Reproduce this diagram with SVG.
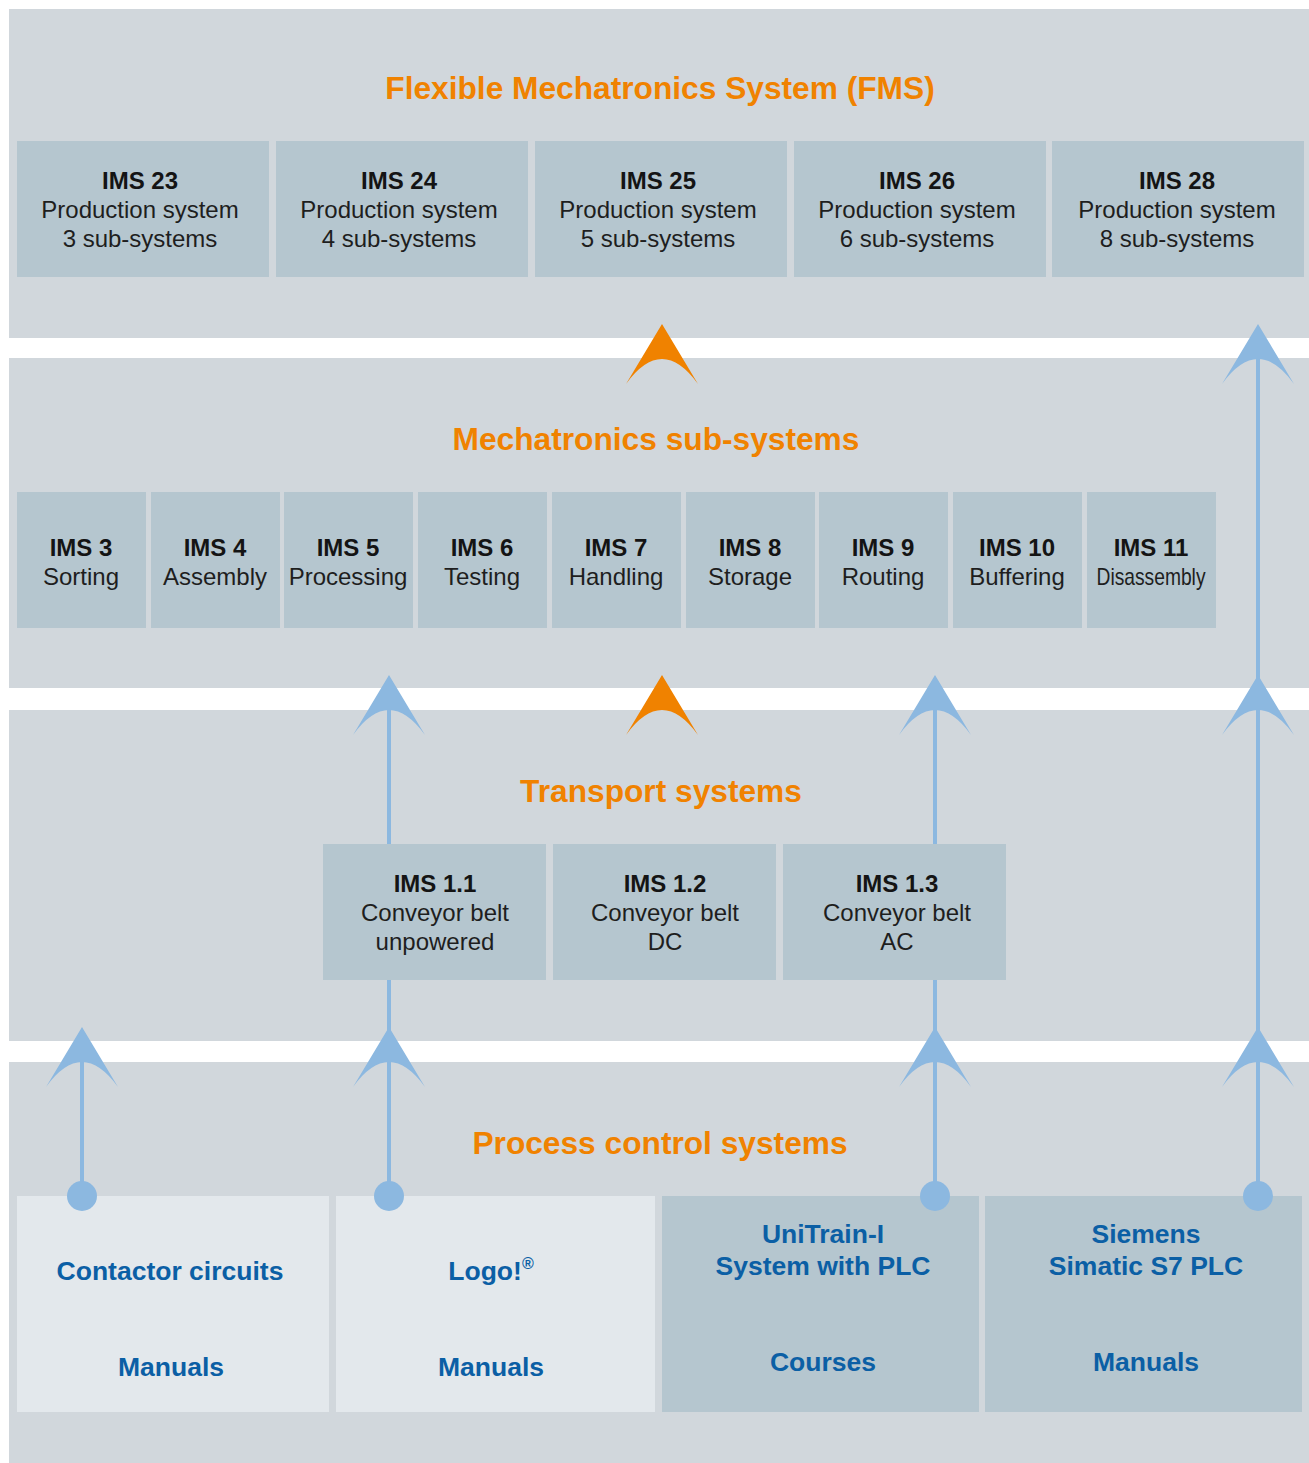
<svg xmlns="http://www.w3.org/2000/svg" width="1309" height="1463" viewBox="0 0 1309 1463">
<style>
.band{fill:#d1d7dc}
.box{fill:#b5c6cf}
.lbox{fill:#e3e8ec}
.ttl{font-family:"Liberation Sans",Arial,sans-serif;font-weight:bold;font-size:31.7px;fill:#f08200;text-anchor:middle}
.b{font-family:"Liberation Sans",Arial,sans-serif;font-weight:bold;font-size:24px;fill:#141414;text-anchor:middle}
.r{font-family:"Liberation Sans",Arial,sans-serif;font-size:24px;fill:#1e1e1e;text-anchor:middle}
.p{font-family:"Liberation Sans",Arial,sans-serif;font-weight:bold;font-size:26.5px;fill:#0b5fa5;text-anchor:middle}
.ln{stroke:#8cb8e0;stroke-width:4;fill:none}
.ah{fill:#8cb8e0}
.oh{fill:#f08200}
.dot{fill:#8cb8e0}
</style>
<defs>
<path id="head" d="M0,0 L36,60 Q0,10 -36,60 Z"/>
</defs>
<rect width="1309" height="1463" fill="#ffffff"/>
<g id="bands">
<rect class="band" x="9" y="9" width="1300" height="329"/>
<rect class="band" x="9" y="358" width="1300" height="330"/>
<rect class="band" x="9" y="710" width="1300" height="331"/>
<rect class="band" x="9" y="1062" width="1300" height="401"/>
</g>
<g id="titles">
<text class="ttl" x="660" y="99">Flexible Mechatronics System (FMS)</text>
<text class="ttl" x="656" y="450">Mechatronics sub-systems</text>
<text class="ttl" x="661" y="802">Transport systems</text>
<text class="ttl" x="660" y="1154">Process control systems</text>
</g>
<g id="ims23"><rect class="box" x="17" y="141" width="252" height="136"/><text class="b" x="140" y="189">IMS 23</text><text class="r" x="140" y="218">Production system</text><text class="r" x="140" y="247">3 sub-systems</text></g>
<g id="ims24"><rect class="box" x="276" y="141" width="252" height="136"/><text class="b" x="399" y="189">IMS 24</text><text class="r" x="399" y="218">Production system</text><text class="r" x="399" y="247">4 sub-systems</text></g>
<g id="ims25"><rect class="box" x="535" y="141" width="252" height="136"/><text class="b" x="658" y="189">IMS 25</text><text class="r" x="658" y="218">Production system</text><text class="r" x="658" y="247">5 sub-systems</text></g>
<g id="ims26"><rect class="box" x="794" y="141" width="252" height="136"/><text class="b" x="917" y="189">IMS 26</text><text class="r" x="917" y="218">Production system</text><text class="r" x="917" y="247">6 sub-systems</text></g>
<g id="ims28"><rect class="box" x="1052" y="141" width="252" height="136"/><text class="b" x="1177" y="189">IMS 28</text><text class="r" x="1177" y="218">Production system</text><text class="r" x="1177" y="247">8 sub-systems</text></g>

<g id="ims3"><rect class="box" x="17" y="492" width="129" height="136"/><text class="b" x="81" y="556">IMS 3</text><text class="r" x="81" y="585">Sorting</text></g>
<g id="ims4"><rect class="box" x="151" y="492" width="129" height="136"/><text class="b" x="215" y="556">IMS 4</text><text class="r" x="215" y="585">Assembly</text></g>
<g id="ims5"><rect class="box" x="284" y="492" width="129" height="136"/><text class="b" x="348" y="556">IMS 5</text><text class="r" x="348" y="585">Processing</text></g>
<g id="ims6"><rect class="box" x="418" y="492" width="129" height="136"/><text class="b" x="482" y="556">IMS 6</text><text class="r" x="482" y="585">Testing</text></g>
<g id="ims7"><rect class="box" x="552" y="492" width="129" height="136"/><text class="b" x="616" y="556">IMS 7</text><text class="r" x="616" y="585">Handling</text></g>
<g id="ims8"><rect class="box" x="686" y="492" width="129" height="136"/><text class="b" x="750" y="556">IMS 8</text><text class="r" x="750" y="585">Storage</text></g>
<g id="ims9"><rect class="box" x="819" y="492" width="129" height="136"/><text class="b" x="883" y="556">IMS 9</text><text class="r" x="883" y="585">Routing</text></g>
<g id="ims10"><rect class="box" x="953" y="492" width="129" height="136"/><text class="b" x="1017" y="556">IMS 10</text><text class="r" x="1017" y="585">Buffering</text></g>
<g id="ims11"><rect class="box" x="1087" y="492" width="129" height="136"/><text class="b" x="1151" y="556">IMS 11</text><text class="r" x="1151" y="585" textLength="109" lengthAdjust="spacingAndGlyphs">Disassembly</text></g>

<g id="ims1-1"><rect class="box" x="323" y="844" width="223" height="136"/><text class="b" x="435" y="892">IMS 1.1</text><text class="r" x="435" y="921">Conveyor belt</text><text class="r" x="435" y="950">unpowered</text></g>
<g id="ims1-2"><rect class="box" x="553" y="844" width="223" height="136"/><text class="b" x="665" y="892">IMS 1.2</text><text class="r" x="665" y="921">Conveyor belt</text><text class="r" x="665" y="950">DC</text></g>
<g id="ims1-3"><rect class="box" x="783" y="844" width="223" height="136"/><text class="b" x="897" y="892">IMS 1.3</text><text class="r" x="897" y="921">Conveyor belt</text><text class="r" x="897" y="950">AC</text></g>

<g id="contactor"><rect class="lbox" x="17" y="1196" width="312" height="216"/><text class="p" x="170" y="1280">Contactor circuits</text><text class="p" x="171" y="1376">Manuals</text></g>
<g id="logo"><rect class="lbox" x="336" y="1196" width="319" height="216"/><text class="p" x="491" y="1280">Logo!<tspan font-size="16" dy="-11">®</tspan></text><text class="p" x="491" y="1376">Manuals</text></g>
<g id="unitrain"><rect class="box" x="662" y="1196" width="317" height="216"/><text class="p" x="823" y="1243">UniTrain-I</text><text class="p" x="823" y="1275">System with PLC</text><text class="p" x="823" y="1371">Courses</text></g>
<g id="siemens"><rect class="box" x="985" y="1196" width="317" height="216"/><text class="p" x="1146" y="1243">Siemens</text><text class="p" x="1146" y="1275">Simatic S7 PLC</text><text class="p" x="1146" y="1371">Manuals</text></g>

<g id="connectors">
<path class="ln" d="M82,1060 V1196 M389,1060 V1196 M389,980 V1040 M389,700 V844 M935,1060 V1196 M935,980 V1040 M935,700 V844 M1258,340 V1196"/>
<use href="#head" class="ah" x="82" y="1027"/>
<use href="#head" class="ah" x="389" y="1027"/>
<use href="#head" class="ah" x="935" y="1027"/>
<use href="#head" class="ah" x="1258" y="1027"/>
<use href="#head" class="ah" x="389" y="675"/>
<use href="#head" class="ah" x="935" y="675"/>
<use href="#head" class="ah" x="1258" y="675"/>
<use href="#head" class="ah" x="1258" y="324"/>
<use href="#head" class="oh" x="662" y="324"/>
<use href="#head" class="oh" x="662" y="675"/>
<circle class="dot" cx="82" cy="1196" r="15"/>
<circle class="dot" cx="389" cy="1196" r="15"/>
<circle class="dot" cx="935" cy="1196" r="15"/>
<circle class="dot" cx="1258" cy="1196" r="15"/>
</g>
</svg>
